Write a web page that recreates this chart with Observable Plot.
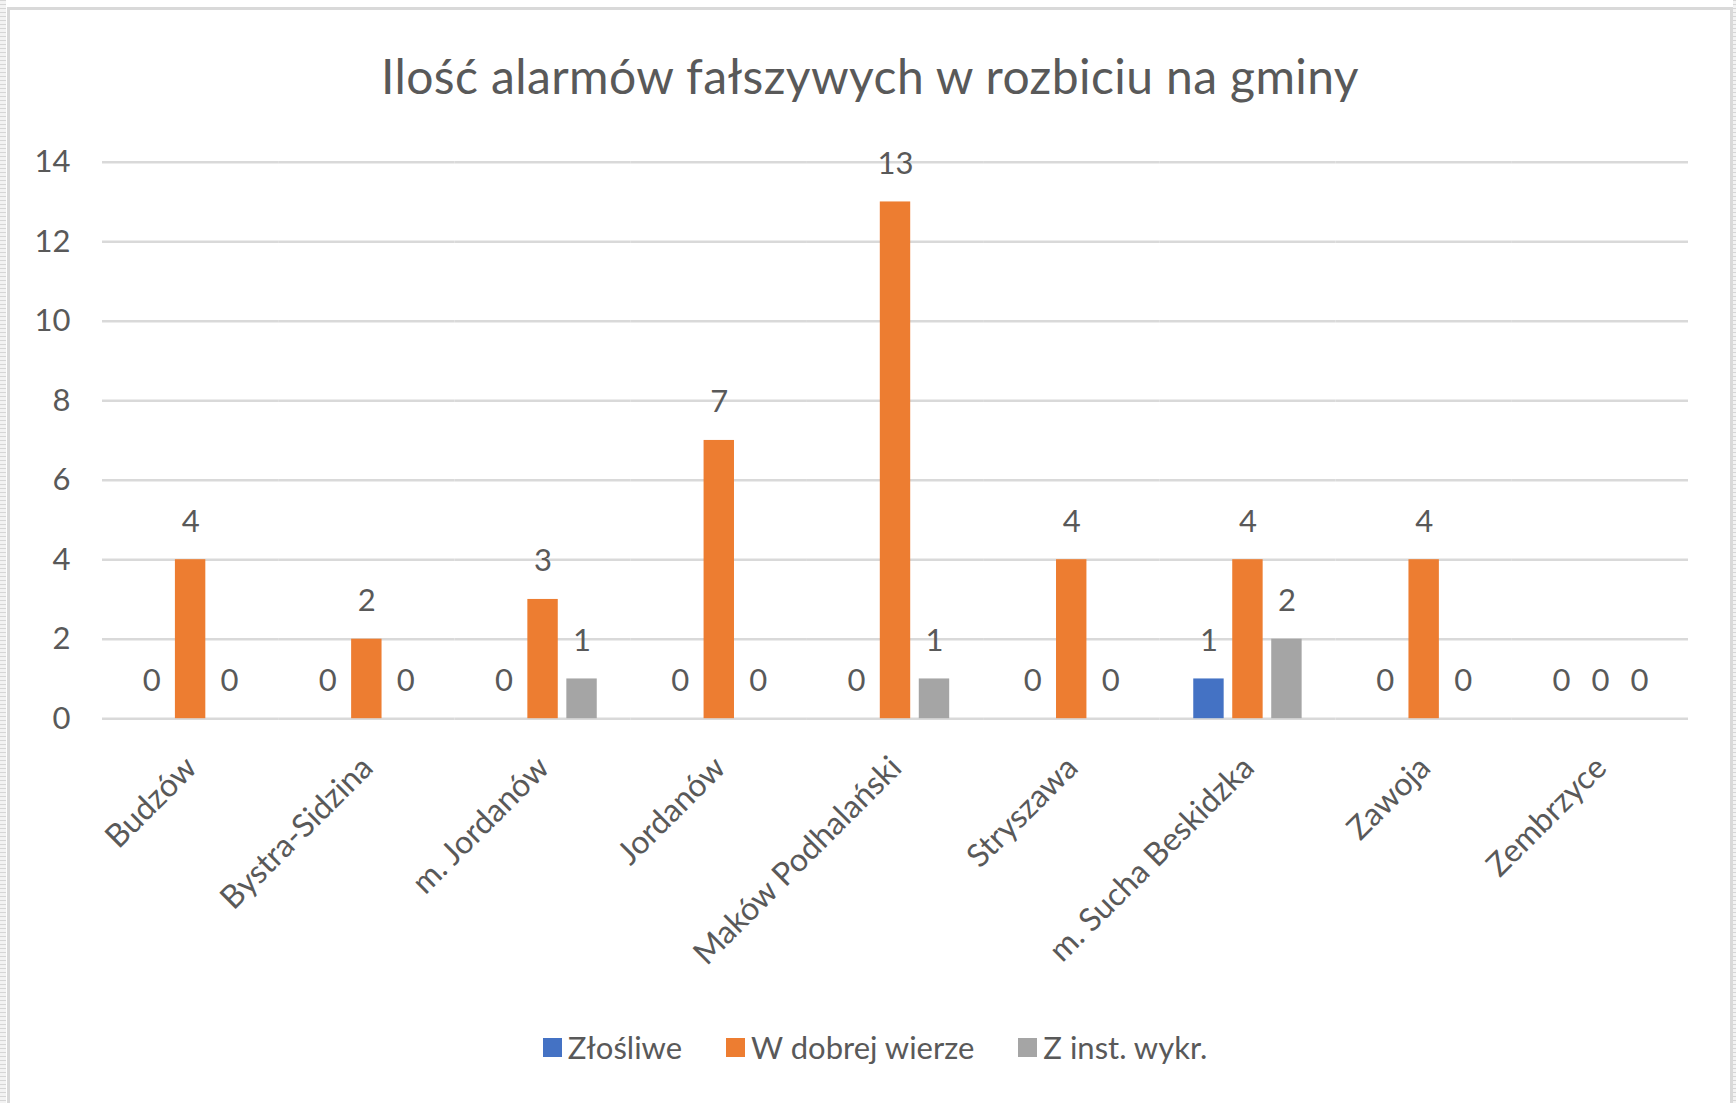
<!DOCTYPE html>
<html>
<head>
<meta charset="utf-8">
<script src="https://cdn.jsdelivr.net/npm/d3@7"></script>
<script src="https://cdn.jsdelivr.net/npm/@observablehq/plot@0.6"></script>
<style>
  html, body { margin: 0; padding: 0; background: #fff; width: 1736px; height: 1103px; overflow: hidden; }
  body { font-family: Lato, "Open Sans", sans-serif; color: #595959; }
  #stripL { position: absolute; left: 0; top: 0; width: 6px; height: 1103px;
    background: repeating-linear-gradient(to bottom, #d6d6d6 0 1px, #f3f3f3 1px 4px); }
  #stripR { position: absolute; left: 1733px; top: 0; width: 3px; height: 1103px;
    background: repeating-linear-gradient(to bottom, #d6d6d6 0 1px, #f3f3f3 1px 4px); }
  #frame { position: absolute; left: 7px; top: 7px; width: 1726px; height: 1120px;
    border: 3px solid #d9d9d9; box-sizing: border-box; }
  #chart { position: absolute; left: 0; top: 0; width: 1736px; }
  #title { height: 120px; box-sizing: border-box; padding-top: 52px; padding-left: 4px;
    text-align: center; font-size: 48px; line-height: 1; color: #595959; white-space: nowrap; }
  #title span { display: inline-block; }
  #legend { display: flex; justify-content: center; gap: 44px; padding-left: 14px;
    margin-top: 29px; font-size: 31px; line-height: 36px; color: #595959; }
  .item { display: flex; align-items: center; }
  .sw { width: 19px; height: 19px; margin-right: 6px; }
  svg { display: block; overflow: visible; }
</style>
</head>
<body>
<div id="stripL"></div>
<div id="stripR"></div>
<div id="frame"></div>
<div id="chart">
  <div id="title"><span id="titleText">Ilość alarmów fałszywych w rozbiciu na gminy</span></div>
  <div id="plot"></div>
  <div id="legend"></div>
</div>
<script>
// ---- data ----
const categories = ["Budzów", "Bystra-Sidzina", "m. Jordanów", "Jordanów", "Maków Podhalański", "Stryszawa", "m. Sucha Beskidzka", "Zawoja", "Zembrzyce"];
const seriesNames = ["Złośliwe", "W dobrej wierze", "Z inst. wykr."];
const zlosliwe      = [0, 0, 0, 0, 0, 0, 1, 0, 0];
const wDobrejWierze = [4, 2, 3, 7, 13, 4, 4, 4, 0];
const zInstWykr     = [0, 0, 1, 0, 1, 0, 2, 0, 0];
const seriesColors  = ["#4472c4", "#ed7d31", "#a5a5a5"];
const yTicks = [0, 2, 4, 6, 8, 10, 12, 14];

const seriesValues = [zlosliwe, wDobrejWierze, zInstWykr];
const rows = categories.flatMap((c, i) =>
  seriesNames.map((s, j) => ({category: c, series: s, value: seriesValues[j][i]})));

// ---- title fit ----
const tt = document.getElementById("titleText");
const target = 978;
const w0 = tt.getBoundingClientRect().width;
if (w0 > 0) {
  const n = tt.textContent.length;
  tt.style.letterSpacing = ((target - w0) / n) + "px";
}

// ---- chart ----
const chart = Plot.plot({
  width: 1736,
  height: 880,
  marginTop: 41.7,
  marginBottom: 281.8,
  marginLeft: 102,
  marginRight: 48,
  style: {fontFamily: "Lato, 'Open Sans', sans-serif", fontSize: "31px", color: "#595959", background: "transparent", overflow: "visible"},
  fx: {domain: categories, padding: 0, axis: null, round: false},
  x: {domain: seriesNames, paddingInner: 0.22, paddingOuter: 0.87, axis: null, round: false},
  y: {domain: [0, 14], ticks: yTicks, tickSize: 0, tickPadding: 32, label: null},
  color: {domain: seriesNames, range: seriesColors},
  marks: [
    Plot.ruleY(yTicks, {stroke: "#d9d9d9", strokeWidth: 2.5}),
    Plot.barY(rows, {fx: "category", x: "series", y: "value", fill: "series"}),
    Plot.text(rows, {fx: "category", x: "series", y: "value", text: d => String(d.value), dy: -38, fill: "#595959", fontSize: 31}),
    Plot.text(categories, {fx: d => d, text: d => d, frameAnchor: "bottom", rotate: -45, textAnchor: "end", dx: 8, dy: 51, fill: "#595959", fontSize: 32})
  ]
});
document.getElementById("plot").appendChild(chart);

// ---- legend ----
const legend = document.getElementById("legend");
seriesNames.forEach((s, i) => {
  const item = document.createElement("div");
  item.className = "item";
  const sw = document.createElement("div");
  sw.className = "sw";
  sw.style.background = seriesColors[i];
  const lab = document.createElement("span");
  lab.textContent = s;
  item.appendChild(sw);
  item.appendChild(lab);
  legend.appendChild(item);
});
</script>
</body>
</html>
